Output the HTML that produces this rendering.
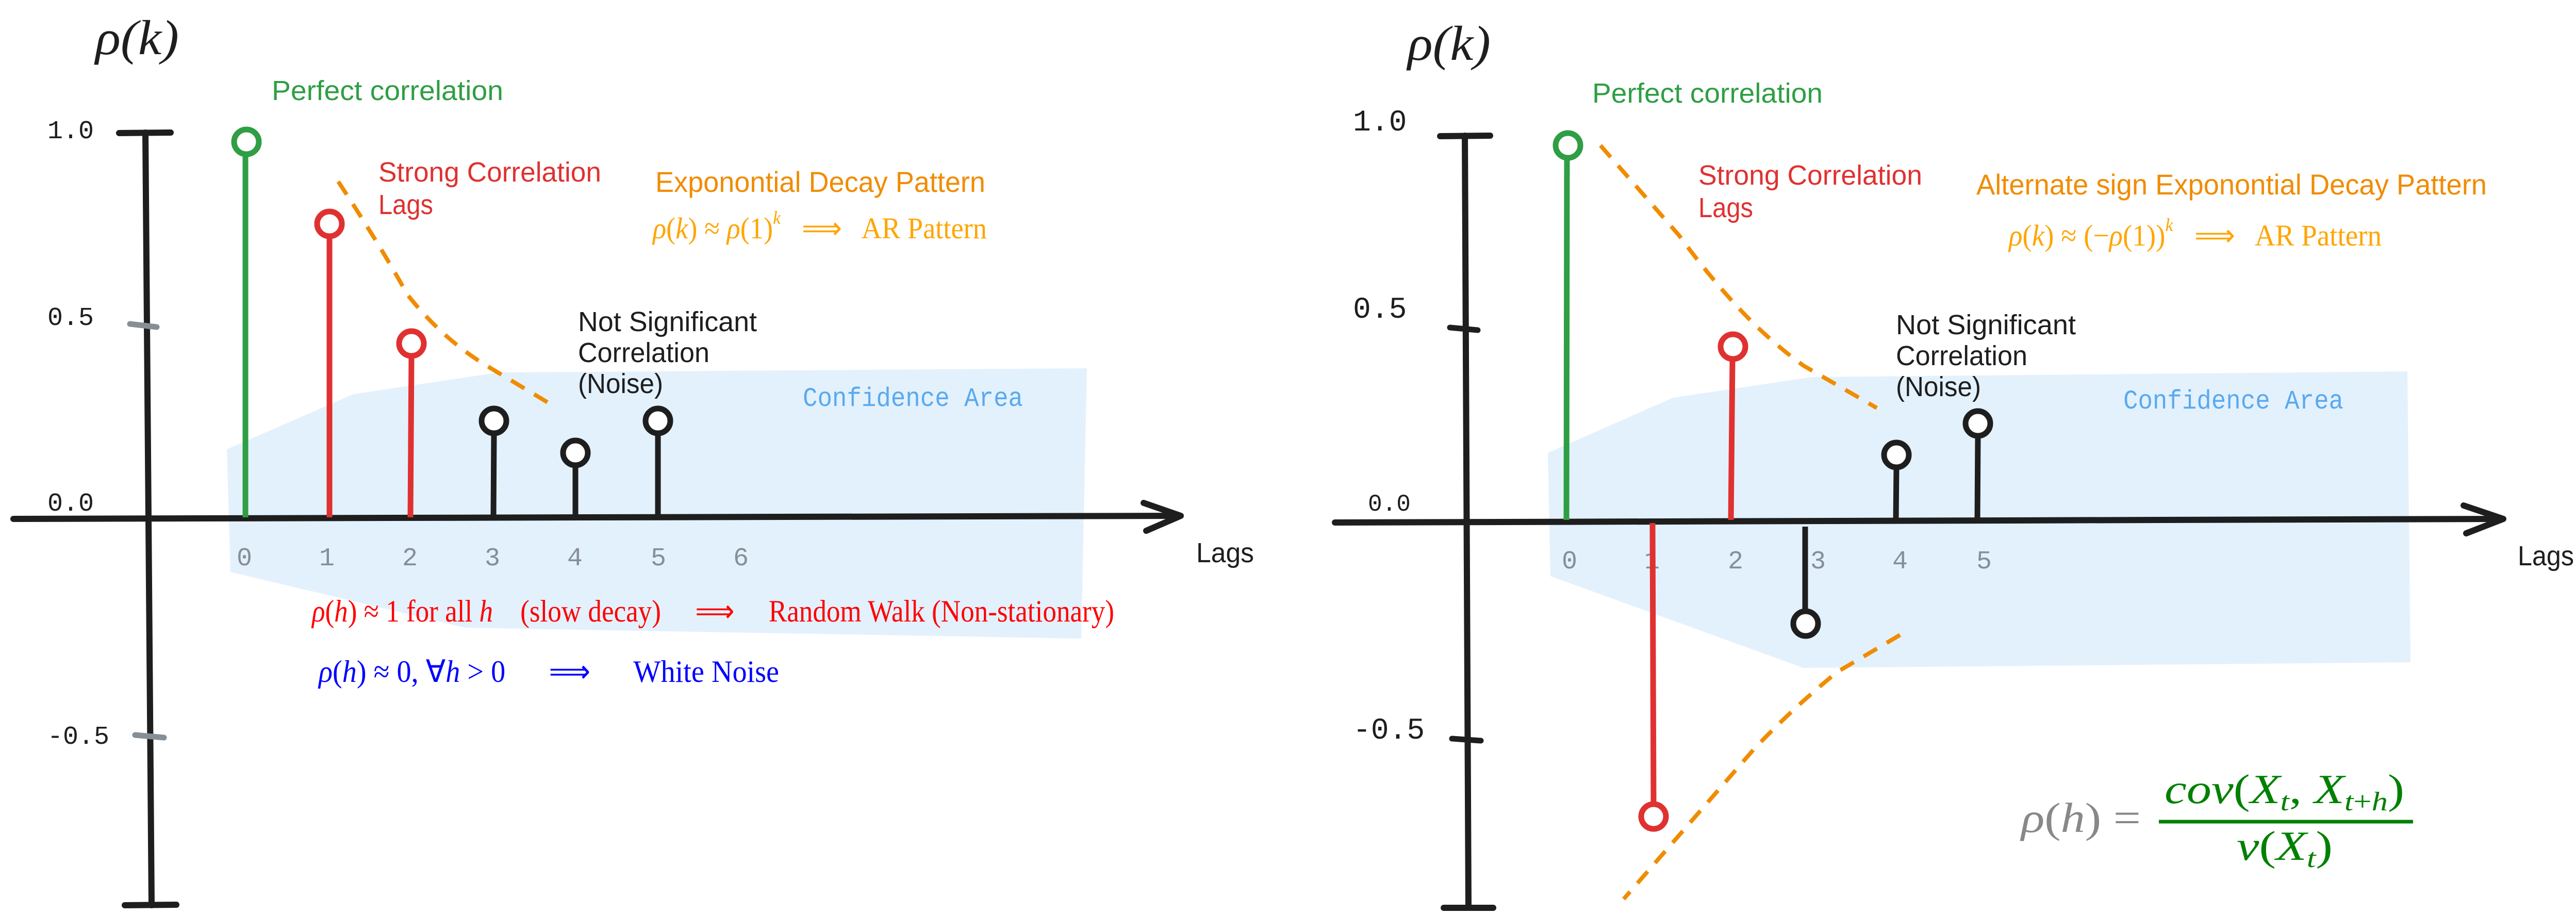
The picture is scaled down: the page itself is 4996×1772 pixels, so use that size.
<!DOCTYPE html>
<html><head><meta charset="utf-8"><style>
html,body{margin:0;padding:0;background:#fff;}
svg{display:block;}
text{white-space:pre;}
.hand{font-family:"Liberation Sans",sans-serif;}
.mono{font-family:"Liberation Mono",monospace;}
.math{font-family:"Liberation Serif",serif;font-style:italic;}
.rm{font-family:"Liberation Serif",serif;}
</style></head><body>
<svg width="4996" height="1772" viewBox="0 0 4996 1772" xmlns="http://www.w3.org/2000/svg" xml:space="preserve">
<!-- ================= LEFT PANEL ================= -->
<polygon points="440,871 686,764 968,722 2108,714 2097,1238 903,1217 447,1109" fill="#e3f1fd"/>
<text x="185" y="105" class="math" font-size="95" fill="#1e1e1e" textLength="162" lengthAdjust="spacingAndGlyphs">ρ(k)</text>
<text x="527" y="194" class="hand" font-size="54" fill="#2f9e44" textLength="449" lengthAdjust="spacingAndGlyphs">Perfect correlation</text>
<line x1="282" y1="257" x2="294" y2="1755" stroke="#1e1e1e" stroke-width="12" stroke-linecap="round"/>
<line x1="231" y1="258" x2="331" y2="257" stroke="#1e1e1e" stroke-width="12" stroke-linecap="round"/>
<line x1="242" y1="1755" x2="342" y2="1754" stroke="#1e1e1e" stroke-width="12" stroke-linecap="round"/>
<line x1="252" y1="628" x2="304" y2="634" stroke="#868e96" stroke-width="11" stroke-linecap="round"/>
<line x1="262" y1="1425" x2="318" y2="1430" stroke="#868e96" stroke-width="11" stroke-linecap="round"/>
<text x="92" y="268" class="mono" font-size="50" fill="#1e1e1e">1.0</text>
<text x="92" y="630" class="mono" font-size="50" fill="#1e1e1e">0.5</text>
<text x="92" y="990" class="mono" font-size="50" fill="#1e1e1e">0.0</text>
<text x="92" y="1442" class="mono" font-size="50" fill="#1e1e1e">-0.5</text>
<line x1="26" y1="1006" x2="2288" y2="1000" stroke="#1e1e1e" stroke-width="12" stroke-linecap="round"/>
<polyline points="2218,975 2290,1000 2223,1029" fill="none" stroke="#1e1e1e" stroke-width="12" stroke-linecap="round" stroke-linejoin="round"/>
<text x="2320" y="1090" class="hand" font-size="54" fill="#1e1e1e" textLength="112" lengthAdjust="spacingAndGlyphs">Lags</text>
<g class="mono" font-size="50" fill="#868e96" text-anchor="middle">
<text x="474" y="1096">0</text><text x="634" y="1096">1</text><text x="795" y="1096">2</text><text x="955" y="1096">3</text><text x="1115" y="1096">4</text><text x="1277" y="1096">5</text><text x="1437" y="1096">6</text>
</g>
<g stroke-width="11" fill="#fff">
<line x1="476" y1="300" x2="476" y2="1003" stroke="#2f9e44"/><circle cx="478" cy="275" r="24" stroke="#2f9e44"/>
<line x1="639" y1="459" x2="639" y2="1003" stroke="#e03131"/><circle cx="639" cy="434" r="24" stroke="#e03131"/>
<line x1="798" y1="691" x2="796" y2="1003" stroke="#e03131"/><circle cx="798" cy="666" r="24" stroke="#e03131"/>
<line x1="958" y1="841" x2="957" y2="1002" stroke="#1e1e1e"/><circle cx="958" cy="816" r="24" stroke="#1e1e1e"/>
<line x1="1116" y1="903" x2="1116" y2="1002" stroke="#1e1e1e"/><circle cx="1116" cy="878" r="24" stroke="#1e1e1e"/>
<line x1="1276" y1="841" x2="1276" y2="1002" stroke="#1e1e1e"/><circle cx="1276" cy="816" r="24" stroke="#1e1e1e"/>
</g>
<path d="M656,352 Q740,480 790,571 Q860,660 952,714 L1077,789" fill="none" stroke="#f08c00" stroke-width="8" stroke-dasharray="30,22"/>
<text x="734" y="352" class="hand" font-size="54" fill="#e03131" textLength="432" lengthAdjust="spacingAndGlyphs">Strong Correlation</text>
<text x="734" y="415" class="hand" font-size="54" fill="#e03131" textLength="106" lengthAdjust="spacingAndGlyphs">Lags</text>
<text x="1271" y="372" class="hand" font-size="56" fill="#f08c00" textLength="640" lengthAdjust="spacingAndGlyphs">Exponontial Decay Pattern</text>
<text x="1266" y="462" class="rm" font-size="58" fill="#ffa500" textLength="648" lengthAdjust="spacingAndGlyphs"><tspan class="math">ρ</tspan>(<tspan class="math">k</tspan>) ≈ <tspan class="math">ρ</tspan>(1)<tspan class="math" font-size="36" dy="-28">k</tspan><tspan dy="28">   ⟹   AR Pattern</tspan></text>
<text x="1121" y="642" class="hand" font-size="54" fill="#1e1e1e" textLength="347" lengthAdjust="spacingAndGlyphs">Not Significant</text>
<text x="1121" y="702" class="hand" font-size="54" fill="#1e1e1e" textLength="255" lengthAdjust="spacingAndGlyphs">Correlation</text>
<text x="1121" y="762" class="hand" font-size="54" fill="#1e1e1e" textLength="165" lengthAdjust="spacingAndGlyphs">(Noise)</text>
<text x="1557" y="787" class="mono" font-size="52" fill="#5aa9ee" textLength="427" lengthAdjust="spacingAndGlyphs">Confidence Area</text>
<text x="605" y="1205" class="rm" font-size="60" fill="#ff0000" textLength="1556" lengthAdjust="spacingAndGlyphs"><tspan class="math">ρ</tspan>(<tspan class="math">h</tspan>) ≈ 1 for all <tspan class="math">h</tspan>    (slow decay)     ⟹     Random Walk (Non-stationary)</text>
<text x="618" y="1322" class="rm" font-size="60" fill="#0000ff" textLength="893" lengthAdjust="spacingAndGlyphs"><tspan class="math">ρ</tspan>(<tspan class="math">h</tspan>) ≈ 0, ∀<tspan class="math">h</tspan> &gt; 0      ⟹      White Noise</text>

<!-- ================= RIGHT PANEL ================= -->
<polygon points="3002,878 3245,771 3514,731 4669,720 4675,1284 3498,1295 3007,1117" fill="#e3f1fd"/>
<text x="2730" y="116" class="math" font-size="95" fill="#1e1e1e" textLength="161" lengthAdjust="spacingAndGlyphs">ρ(k)</text>
<text x="3088" y="199" class="hand" font-size="54" fill="#2f9e44" textLength="447" lengthAdjust="spacingAndGlyphs">Perfect correlation</text>
<line x1="2841" y1="263" x2="2848" y2="1760" stroke="#1e1e1e" stroke-width="12" stroke-linecap="round"/>
<line x1="2793" y1="264" x2="2890" y2="263" stroke="#1e1e1e" stroke-width="12" stroke-linecap="round"/>
<line x1="2800" y1="1760" x2="2896" y2="1760" stroke="#1e1e1e" stroke-width="12" stroke-linecap="round"/>
<line x1="2812" y1="635" x2="2866" y2="640" stroke="#1e1e1e" stroke-width="11" stroke-linecap="round"/>
<line x1="2816" y1="1432" x2="2872" y2="1436" stroke="#1e1e1e" stroke-width="11" stroke-linecap="round"/>
<text x="2624" y="253" class="mono" font-size="58" fill="#1e1e1e">1.0</text>
<text x="2624" y="616" class="mono" font-size="58" fill="#1e1e1e">0.5</text>
<text x="2653" y="990" class="mono" font-size="46" fill="#1e1e1e">0.0</text>
<text x="2624" y="1432" class="mono" font-size="58" fill="#1e1e1e">-0.5</text>
<line x1="2589" y1="1013" x2="4853" y2="1006" stroke="#1e1e1e" stroke-width="12" stroke-linecap="round"/>
<polyline points="4778,980 4855,1006 4783,1034" fill="none" stroke="#1e1e1e" stroke-width="12" stroke-linecap="round" stroke-linejoin="round"/>
<text x="4883" y="1096" class="hand" font-size="54" fill="#1e1e1e" textLength="109" lengthAdjust="spacingAndGlyphs">Lags</text>
<g class="mono" font-size="50" fill="#868e96" text-anchor="middle">
<text x="3044" y="1102">0</text><text x="3204" y="1102">1</text><text x="3366" y="1102">2</text><text x="3526" y="1102">3</text><text x="3685" y="1102">4</text><text x="3848" y="1102">5</text>
</g>
<g stroke-width="11" fill="#fff">
<line x1="3039" y1="307" x2="3038" y2="1008" stroke="#2f9e44"/><circle cx="3041" cy="282" r="24" stroke="#2f9e44"/>
<line x1="3205" y1="1014" x2="3207" y2="1558" stroke="#e03131"/><circle cx="3207" cy="1583" r="24" stroke="#e03131"/>
<line x1="3360" y1="697" x2="3357" y2="1008" stroke="#e03131"/><circle cx="3361" cy="672" r="24" stroke="#e03131"/>
<line x1="3501" y1="1021" x2="3501" y2="1184" stroke="#1e1e1e"/><circle cx="3502" cy="1209" r="24" stroke="#1e1e1e"/>
<line x1="3678" y1="907" x2="3677" y2="1008" stroke="#1e1e1e"/><circle cx="3678" cy="882" r="24" stroke="#1e1e1e"/>
<line x1="3836" y1="846" x2="3835" y2="1008" stroke="#1e1e1e"/><circle cx="3836" cy="821" r="24" stroke="#1e1e1e"/>
</g>
<path d="M3104,282 L3257,457 Q3310,530 3369,594 Q3430,660 3498,709 L3640,791" fill="none" stroke="#f08c00" stroke-width="8" stroke-dasharray="30,22"/>
<path d="M3685,1231 L3563,1303 Q3480,1370 3402,1452 L3149,1743" fill="none" stroke="#f08c00" stroke-width="8" stroke-dasharray="30,22"/>
<text x="3294" y="358" class="hand" font-size="54" fill="#e03131" textLength="434" lengthAdjust="spacingAndGlyphs">Strong Correlation</text>
<text x="3294" y="421" class="hand" font-size="54" fill="#e03131" textLength="106" lengthAdjust="spacingAndGlyphs">Lags</text>
<text x="3833" y="377" class="hand" font-size="56" fill="#f08c00" textLength="990" lengthAdjust="spacingAndGlyphs">Alternate sign Exponontial Decay Pattern</text>
<text x="3896" y="476" class="rm" font-size="58" fill="#ffa500" textLength="723" lengthAdjust="spacingAndGlyphs"><tspan class="math">ρ</tspan>(<tspan class="math">k</tspan>) ≈ (−<tspan class="math">ρ</tspan>(1))<tspan class="math" font-size="36" dy="-28">k</tspan><tspan dy="28">   ⟹   AR Pattern</tspan></text>
<text x="3677" y="648" class="hand" font-size="54" fill="#1e1e1e" textLength="349" lengthAdjust="spacingAndGlyphs">Not Significant</text>
<text x="3677" y="708" class="hand" font-size="54" fill="#1e1e1e" textLength="255" lengthAdjust="spacingAndGlyphs">Correlation</text>
<text x="3677" y="768" class="hand" font-size="54" fill="#1e1e1e" textLength="165" lengthAdjust="spacingAndGlyphs">(Noise)</text>
<text x="4118" y="792" class="mono" font-size="52" fill="#5aa9ee" textLength="427" lengthAdjust="spacingAndGlyphs">Confidence Area</text>
<text x="3920" y="1613" class="rm" font-size="82" fill="#888888" textLength="232" lengthAdjust="spacingAndGlyphs"><tspan class="math">ρ</tspan>(<tspan class="math">h</tspan>) =</text>
<line x1="4187" y1="1593" x2="4680" y2="1593" stroke="#008000" stroke-width="7"/>
<text x="4198" y="1557" class="rm" font-size="80" fill="#008000" textLength="465" lengthAdjust="spacingAndGlyphs"><tspan class="math">cov</tspan>(<tspan class="math">X</tspan><tspan class="math" font-size="52" dy="14">t</tspan><tspan dy="-14">, </tspan><tspan class="math">X</tspan><tspan class="math" font-size="52" dy="14">t</tspan><tspan font-size="52">+</tspan><tspan class="math" font-size="52">h</tspan><tspan dy="-14">)</tspan></text>
<text x="4338" y="1667" class="rm" font-size="80" fill="#008000" textLength="186" lengthAdjust="spacingAndGlyphs"><tspan class="math">v</tspan>(<tspan class="math">X</tspan><tspan class="math" font-size="52" dy="14">t</tspan><tspan dy="-14">)</tspan></text>
</svg>
</body></html>
